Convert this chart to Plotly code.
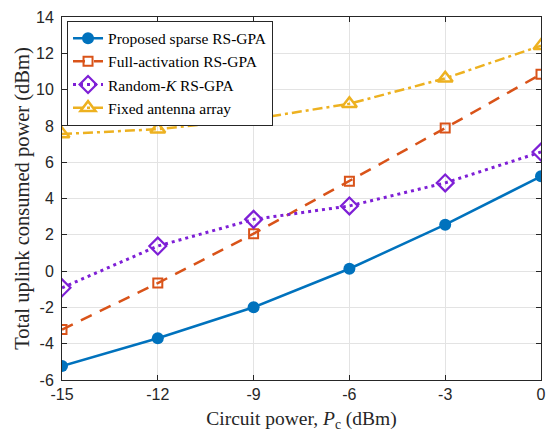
import plotly.graph_objects as go

pc = [-15, -12, -9, -6, -3, 0]
proposed = [-5.23, -3.70, -1.99, 0.13, 2.56, 5.22]
full_act = [-3.22, -0.66, 2.06, 4.95, 7.88, 10.85]
random_k = [-0.92, 1.38, 2.85, 3.59, 4.86, 6.56]
fixed = [7.55, 7.82, 8.38, 9.22, 10.62, 12.42]

x_ticks = [-15, -12, -9, -6, -3, 0]
x_ticktext = ["-15", "-12", "-9", "-6", "-3", "0"]
y_ticks = [-6, -4, -2, 0, 2, 4, 6, 8, 10, 12, 14]
y_ticktext = ["-6", "-4", "-2", "0", "2", "4", "6", "8", "10", "12", "14"]

names = ["Proposed sparse RS-GPA", "Full-activation RS-GPA",
         "Random-<i>K</i> RS-GPA", "Fixed antenna array"]

fig = go.Figure()
fig.add_trace(go.Scatter(x=pc, y=proposed, name=names[0], mode="lines+markers",
                         line=dict(color="#0072BD", width=2.5),
                         marker=dict(symbol="circle", size=12, color="#0072BD")))
fig.add_trace(go.Scatter(x=pc, y=full_act, name=names[1], mode="lines+markers",
                         line=dict(color="#D95319", width=2.5, dash="12px,9px"),
                         marker=dict(symbol="square-open", size=9, color="#D95319",
                                     line=dict(width=2))))
fig.add_trace(go.Scatter(x=pc, y=random_k, name=names[2], mode="lines+markers",
                         line=dict(color="#7E1FD6", width=3, dash="3px,4px"),
                         marker=dict(symbol="diamond-open", size=13, color="#7E1FD6",
                                     line=dict(width=2.2))))
fig.add_trace(go.Scatter(x=pc, y=fixed, name=names[3], mode="lines+markers",
                         line=dict(color="#EDB120", width=2.5, dash="10px,4px,3px,4px"),
                         marker=dict(symbol="triangle-up-open", size=13, color="#EDB120",
                                     line=dict(width=2.5))))

axis_common = dict(showgrid=True, gridcolor="#E3E3E3", gridwidth=1,
                   showline=True, linecolor="#262626", linewidth=1, mirror="ticks",
                   ticks="inside", ticklen=5, tickcolor="#262626",
                   tickfont=dict(family="Liberation Sans, Arial", size=16, color="#262626"),
                   ticklabeloverflow="allow",
                   zeroline=False)

fig.update_xaxes(range=[-15, 0], tickvals=x_ticks, ticktext=x_ticktext,
                 title=dict(text="Circuit power, <i>P</i><sub>c</sub> (dBm)",
                            font=dict(family="Liberation Serif, Times New Roman", size=19.5, color="#262626"),
                            standoff=10),
                 **axis_common)
fig.update_yaxes(range=[-6, 14], tickvals=y_ticks, ticktext=y_ticktext,
                 ticklabelstandoff=4,
                 title=dict(text="Total uplink consumed power (dBm)",
                            font=dict(family="Liberation Serif, Times New Roman", size=20.5, color="#262626"),
                            standoff=0),
                 **axis_common)

fig.update_layout(
    width=546, height=432,
    margin=dict(l=62, r=5, t=17, b=52, autoexpand=False),
    plot_bgcolor="white", paper_bgcolor="white",
    legend=dict(x=0.0105, y=0.99, xanchor="left", yanchor="top",
                bgcolor="white", bordercolor="#262626", borderwidth=1,
                font=dict(family="Liberation Serif, Times New Roman", size=15.5, color="#000000"),
                tracegroupgap=0, itemwidth=30),
    showlegend=True,
)

fig.write_html("out.html", config={"displayModeBar": False},
               post_script="document.body.style.margin='0';document.body.style.overflow='hidden';")
